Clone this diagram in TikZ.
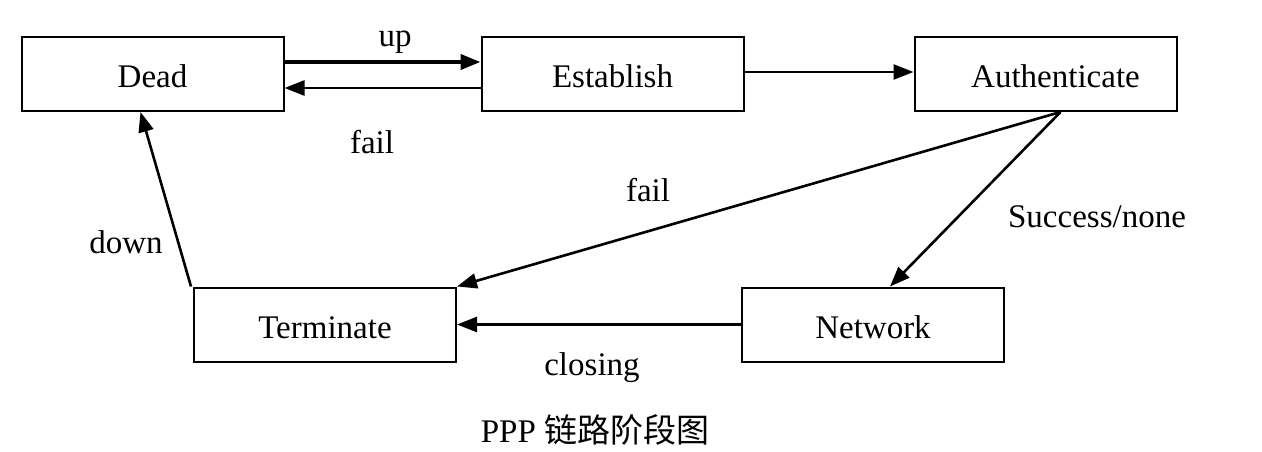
\documentclass[tikz,border=0pt]{standalone}
\usepackage{fontspec}
\setmainfont{Liberation Serif}
\newfontfamily\cjk{Noto Sans CJK SC}
\usetikzlibrary{arrows.meta,positioning}

\tikzset{
  phase/.style={draw,line width=2pt,minimum width=262pt,minimum height=74pt,inner sep=0pt,text height=28pt,text depth=0pt,font=\fontsize{33}{38}\selectfont},
  conn/.style={line width=2.6pt,-{Triangle[length=20pt,width=15pt]}},
  lbl/.style={inner sep=0pt,font=\fontsize{33}{38}\selectfont}
}

\begin{document}
\begin{tikzpicture}[x=1pt,y=1pt,yscale=-1]
\useasboundingbox (0,0) rectangle (1262,452);

%Boxes
\node [phase] (dead) at (152.5,74) {Dead};
\node [phase] (establish) at (612.5,74) {Establish};
\node [phase] (auth) at (1045.5,74) {\hspace*{20pt}Authenticate};
\node [phase] (terminate) at (325,324.5) {Terminate};
\node [phase] (network) at (873,324.5) {Network};

%Connectors
\draw [conn,line width=4pt] ([yshift=-12pt]dead.east) -- ([yshift=-12pt]establish.west);
\draw [conn] ([yshift=14pt]establish.west) -- ([yshift=14pt]dead.east);
\draw [conn] ([yshift=-2pt]establish.east) -- ([yshift=-2pt]auth.west);
\coordinate (split) at ([xshift=15pt]auth.south);
\draw [conn] (split) -- (terminate.north east);
\draw [conn] (split) -- ([xshift=17pt]network.north);
\draw [conn] (network.west) -- (terminate.east);
\draw [conn] ([xshift=-2pt]terminate.north west) -- ([xshift=-12pt]dead.south);

% Text Node
\node [lbl] (lup) at (395,42) {up};
\node [lbl] (lfail) at (372,142) {fail};
\node [lbl] (lfailb) at (648,190) {fail};
\node [lbl] (lsucc) at (1097,217) {Success/none};
\node [lbl] (ldown) at (126,242) {down};
\node [lbl] (lclose) at (592,368) {closing};
\node [lbl] (caption) at (595,430) {PPP {\cjk 链路阶段图}};

\end{tikzpicture}
\end{document}
